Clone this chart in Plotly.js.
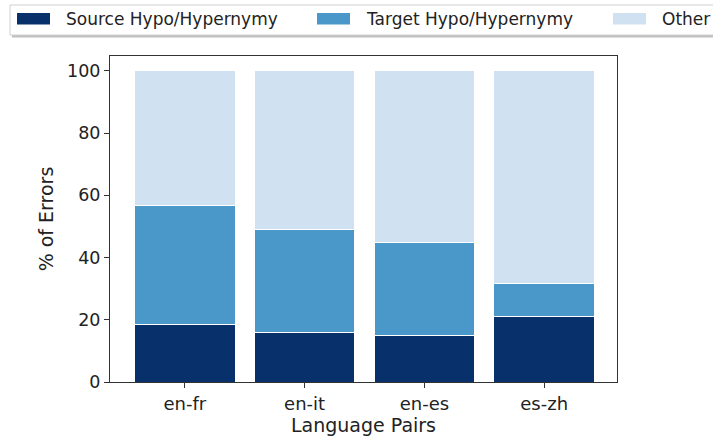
<!DOCTYPE html>
<html>
<head>
<meta charset="utf-8">
<script src="https://cdn.plot.ly/plotly-3.0.1.min.js"></script>
<style>html,body{margin:0;padding:0;background:#fff;}#chart{width:713px;height:439px;}</style>
</head>
<body>
<div id="chart"></div>
<script>
const categories = ['en-fr', 'en-it', 'en-es', 'es-zh'];
const seriesNames = ['Source Hypo/Hypernymy', 'Target Hypo/Hypernymy', 'Other'];
const sourceVals = [18.6, 15.8, 15.1, 21.2];
const targetVals = [38.0, 33.1, 29.9, 10.6];
const otherVals = [43.4, 51.1, 55.0, 68.2];
const yTicks = [0, 20, 40, 60, 80, 100];
const colors = ['#08306b', '#4a98c9', '#d0e1f2'];

const W = 713, H = 439;
const L = 110, R = 617, T = 56, B = 382;
const font = 'DejaVu Sans, Verdana, sans-serif';
const px = x => (x - L) / (R - L);
const py = y => (B - y) / (B - T);

const vals = [sourceVals, targetVals, otherVals];
const traces = vals.map((v, i) => ({
  type: 'bar', x: categories, y: v, name: seriesNames[i],
  marker: {color: colors[i], line: {color: '#ffffff', width: 1}},
  width: 0.84, showlegend: false, hoverinfo: 'skip'
}));

// Manual legend (matplotlib style, box runs past the right edge)
const shapes = [{
  type: 'rect', xref: 'paper', yref: 'paper',
  x0: px(12), x1: px(780), y0: py(37.5), y1: py(7),
  line: {width: 0}, fillcolor: 'rgba(0,0,0,0.25)', layer: 'above'
}, {
  type: 'rect', xref: 'paper', yref: 'paper',
  x0: px(10), x1: px(778), y0: py(35), y1: py(5),
  line: {color: '#d0d0d0', width: 1}, fillcolor: '#ffffff', layer: 'above'
}];
const annotations = [];
const entryX = [17, 317, 613];
seriesNames.forEach((n, i) => {
  const x0 = entryX[i];
  shapes.push({
    type: 'rect', xref: 'paper', yref: 'paper',
    x0: px(x0), x1: px(x0 + 33), y0: py(24.5), y1: py(13),
    line: {width: 0}, fillcolor: colors[i], layer: 'above'
  });
  annotations.push({
    xref: 'paper', yref: 'paper', x: px(x0 + 47), y: py(19),
    xanchor: 'left', yanchor: 'middle', showarrow: false,
    text: n, font: {family: font, size: 17, color: '#222'}
  });
});

const layout = {
  width: W, height: H,
  margin: {l: L, r: W - R, t: T, b: H - B, pad: 0},
  paper_bgcolor: '#ffffff', plot_bgcolor: '#ffffff',
  barmode: 'stack', bargap: 0.16,
  showlegend: false,
  font: {family: font, color: '#222'},
  xaxis: {
    type: 'category', range: [-0.625, 3.608],
    showgrid: false, zeroline: false,
    showline: true, mirror: true, linecolor: '#333', linewidth: 1,
    ticks: 'outside', ticklen: 5, tickcolor: '#333', tickwidth: 1,
    tickfont: {family: font, size: 18, color: '#222'},
    title: {text: 'Language Pairs', font: {family: font, size: 19, color: '#222'}, standoff: 6}
  },
  yaxis: {
    range: [0, 104.8], tickvals: yTicks, ticktext: yTicks.map(String),
    showgrid: false, zeroline: false,
    showline: true, mirror: true, linecolor: '#333', linewidth: 1,
    ticks: 'outside', ticklen: 5, tickcolor: '#333', tickwidth: 1,
    tickfont: {family: font, size: 17.5, color: '#222'},
    title: {text: '% of Errors', font: {family: font, size: 19, color: '#222'}, standoff: 8}
  },
  shapes: shapes,
  annotations: annotations
};

Plotly.newPlot('chart', traces, layout, {displayModeBar: false, staticPlot: true});
</script>
</body>
</html>
